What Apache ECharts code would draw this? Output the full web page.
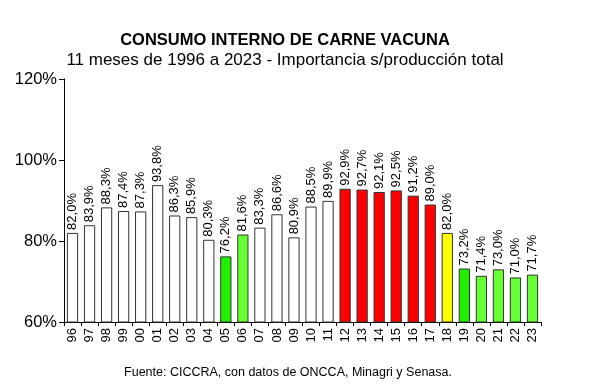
<!DOCTYPE html>
<html><head><meta charset="utf-8">
<script src="https://cdn.jsdelivr.net/npm/echarts@6/dist/echarts.min.js"></script>
<style>html,body{margin:0;padding:0;background:#fff}#c{width:596px;height:389px}</style>
</head><body><div id="c"></div>
<script>
const categories = ['96','97','98','99','00','01','02','03','04','05','06','07','08','09','10','11','12','13','14','15','16','17','18','19','20','21','22','23'];
const values = [82.0,83.9,88.3,87.4,87.3,93.8,86.3,85.9,80.3,76.2,81.6,83.3,86.6,80.9,88.5,89.9,92.9,92.7,92.1,92.5,91.2,89.0,82.0,73.2,71.4,73.0,71.0,71.7];
const colorGroups = ['w','w','w','w','w','w','w','w','w','g','l','w','w','w','w','w','r','r','r','r','r','r','y','g','l','l','l','l'];
const yTicks = [60, 80, 100, 120];
const palette = {w:'#ffffff', g:'#1ef000', l:'#66ff33', r:'#ff0000', y:'#ffff00'};
const chart = echarts.init(document.getElementById('c'));
const F = 'Arial, "Liberation Sans", sans-serif';
chart.setOption({
  animation:false,
  title:[
    {text:'CONSUMO INTERNO DE CARNE VACUNA', left:280, top:27, textAlign:'center',
     textStyle:{fontFamily:F,fontSize:16.5,fontWeight:'bold',color:'#000'}},
    {text:'11 meses de 1996 a 2023 - Importancia s/producción total', left:280, top:47, textAlign:'center',
     textStyle:{fontFamily:F,fontSize:17,fontWeight:'normal',color:'#000'}},
    {text:'Fuente: CICCRA, con datos de ONCCA, Minagri y Senasa.', left:283, top:361, textAlign:'center',
     textStyle:{fontFamily:F,fontSize:12.5,fontWeight:'normal',color:'#000'}}
  ],
  grid:{left:64, right:55, top:79, bottom:67},
  xAxis:{type:'category', data:categories,
    axisLine:{lineStyle:{color:'#000'}},
    axisTick:{show:true, alignWithLabel:false, length:4, lineStyle:{color:'#000'}},
    axisLabel:{rotate:90, fontFamily:F, fontSize:13, color:'#000', margin:6}},
  yAxis:{type:'value', min:yTicks[0], max:yTicks[yTicks.length-1], interval:20,
    axisLine:{show:true, lineStyle:{color:'#000'}},
    axisTick:{show:true, length:5, lineStyle:{color:'#000'}},
    splitLine:{show:false},
    axisLabel:{fontFamily:F, fontSize:16.5, color:'#000', margin:7, formatter:v=>v+'%'}},
  series:[{type:'bar', barCategoryGap:'34%',
    data:values.map((v,i)=>({value:v, itemStyle:{color:palette[colorGroups[i]], borderColor:'#333', borderWidth:1}})),
    label:{show:true, position:'top', rotate:90, align:'left', verticalAlign:'middle', distance:3,
      fontFamily:F, fontSize:13, color:'#000',
      formatter:p=>p.value.toFixed(1).replace('.',',')+'%'}
  }]
});
</script></body></html>
